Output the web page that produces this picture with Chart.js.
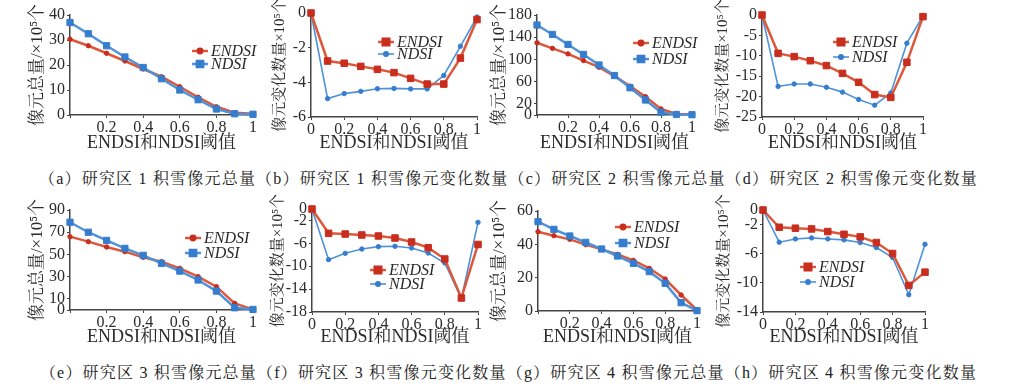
<!DOCTYPE html>
<html>
<head>
<meta charset="utf-8">
<script src="https://cdn.jsdelivr.net/npm/chart.js@4.4.0/dist/chart.umd.min.js"></script>
<style>
body { margin: 0; background: #fff; width: 1017px; height: 390px; position: relative; overflow: hidden; }
canvas { position: absolute; }
.legenda-fig { position: absolute; left: 0; width: 1017px; text-align: center; font-family: 'Liberation Serif', 'Noto Serif CJK SC', serif; font-size: 16px; letter-spacing: 1.2px; color: #222; line-height: 20px; white-space: nowrap; }
</style>
</head>
<body>
<canvas id="g-a"></canvas>
<canvas id="g-b"></canvas>
<canvas id="g-c"></canvas>
<canvas id="g-d"></canvas>
<canvas id="g-e"></canvas>
<canvas id="g-f"></canvas>
<canvas id="g-g"></canvas>
<canvas id="g-h"></canvas>
<div class="legenda-fig" style="top:169px">（a）研究区 1 积雪像元总量（b）研究区 1 积雪像元变化数量（c）研究区 2 积雪像元总量（d）研究区 2 积雪像元变化数量</div>
<div class="legenda-fig" style="top:363px">（e）研究区 3 积雪像元总量（f）研究区 3 积雪像元变化数量（g）研究区 4 积雪像元总量（h）研究区 4 积雪像元变化数量</div>
<script>
// limiares (eixo x)
const limiares = [0, 0.1, 0.2, 0.3, 0.4, 0.5, 0.6, 0.7, 0.8, 0.9, 1];
const xTicks = [0, 0.2, 0.4, 0.6, 0.8, 1];
const xTickLabels = ['0', '0.2', '0.4', '0.6', '0.8', '1'];

// area 1
const endsiTotal1 = [30.3, 27.7, 24.7, 21.6, 18.4, 15.3, 11.3, 7.1, 3.3, 0.9, 0.5];
const ndsiTotal1 = [37.0, 32.5, 27.7, 23.2, 19.0, 14.5, 10.0, 6.1, 2.4, 0.5, 0.3];
const endsiVar1 = [0, -2.77, -2.9, -3.08, -3.25, -3.44, -3.77, -4.1, -4.1, -2.6, -0.38];
const ndsiVar1 = [0, -4.94, -4.65, -4.52, -4.37, -4.35, -4.38, -4.38, -3.6, -1.92, -0.23];
// area 2
const endsiTotal2 = [130, 120, 110, 98, 86, 70, 52, 33, 11, 2, 1];
const ndsiTotal2 = [162, 145, 127, 109, 90, 71, 49, 27, 5, 1, 0.5];
const endsiVar2 = [0, -9.4, -10.2, -11.2, -12.4, -14.3, -16.5, -19.5, -20.2, -11.6, -0.4];
const ndsiVar2 = [0, -17.5, -16.9, -16.9, -17.7, -18.9, -20.7, -22.1, -19.1, -6.9, -0.2];
// area 3
const endsiTotal3 = [66, 61.5, 56.7, 52.5, 47.4, 43.5, 37.5, 30, 21, 6, 0.6];
const ndsiTotal3 = [79, 70, 62.7, 55.5, 49.2, 42, 35, 27, 17, 2, 0.5];
const endsiVar3 = [0, -4.25, -4.37, -4.54, -4.72, -5.07, -5.77, -6.76, -8.74, -15.55, -6.2];
const ndsiVar3 = [0, -8.85, -7.75, -7.0, -6.58, -6.52, -6.81, -7.69, -9.43, -15.67, -2.33];
// area 4
const endsiTotal4 = [47.6, 45.2, 43, 39.8, 37, 34, 30.4, 25.6, 19.2, 9.6, 0.6];
const ndsiTotal4 = [53.6, 49, 45, 41.2, 37.2, 33, 28.6, 23.6, 16.6, 5, 0.2];
const endsiVar4 = [0, -2.37, -2.5, -2.6, -2.96, -3.33, -3.69, -4.47, -5.97, -10.35, -8.53];
const ndsiVar4 = [0, -4.42, -3.97, -3.83, -3.97, -4.1, -4.47, -5.15, -6.52, -11.63, -4.7];

// ticks do eixo y
const yTicksA = [0, 10, 20, 30, 40];
const yTicksB = [-6, -4, -2, 0];
const yTicksC = [0, 20, 60, 100, 140, 180];
const yTicksD = [-25, -20, -15, -10, -5, 0];
const yTicksE = [0, 10, 30, 50, 70, 90];
const yTicksF = [-18, -14, -10, -6, -2, 0];
const yTicksG = [0, 20, 40, 60];
const yTicksH = [-14, -10, -6, -2, 0];

const tituloTotal = '像元总量/×10⁵个';
const tituloVar = '像元变化数量×10⁵个';
const tituloX = 'ENDSI和NDSI阈值';

const fonte = "'Liberation Serif', 'Noto Serif CJK SC', serif";
const corVermelha = 'rgb(221, 88, 58)';
const corVermelhaPonto = 'rgb(200, 45, 30)';
const corAzul = 'rgb(78, 146, 218)';
const corAzulPonto = 'rgb(55, 125, 205)';
const corEixo = '#444';
const corTexto = '#2b2b2b';

const paineis = [
	{ id: 'g-a', tipo: 'total', endsi: endsiTotal1, ndsi: ndsiTotal1, yTicks: yTicksA, linha: 0, area: { l: 70, r: 253, t: 15, b: 115 }, tituloYx: 38, leg: { x: 122, y: 36, gap: 13 } },
	{ id: 'g-b', tipo: 'var', endsi: endsiVar1, ndsi: ndsiVar1, yTicks: yTicksB, linha: 0, area: { l: 311, r: 477, t: 13, b: 117 }, tituloYx: 280, leg: { x: 67, y: 29, gap: 12 } },
	{ id: 'g-c', tipo: 'total', endsi: endsiTotal2, ndsi: ndsiTotal2, yTicks: yTicksC, linha: 0, area: { l: 537, r: 692, t: 15, b: 115 }, tituloYx: 500, leg: { x: 96, y: 28, gap: 16 } },
	{ id: 'g-d', tipo: 'var', endsi: endsiVar2, ndsi: ndsiVar2, yTicks: yTicksD, linha: 0, area: { l: 762, r: 923, t: 15, b: 117 }, tituloYx: 723, leg: { x: 71, y: 27, gap: 15 } },
	{ id: 'g-e', tipo: 'total', endsi: endsiTotal3, ndsi: ndsiTotal3, yTicks: yTicksE, linha: 1, area: { l: 70, r: 253, t: 210, b: 310 }, tituloYx: 38, leg: { x: 115, y: 28, gap: 15 } },
	{ id: 'g-f', tipo: 'var', endsi: endsiVar3, ndsi: ndsiVar3, yTicks: yTicksF, linha: 1, area: { l: 312, r: 478, t: 209, b: 312 }, tituloYx: 278, leg: { x: 58, y: 61, gap: 14 } },
	{ id: 'g-g', tipo: 'total', endsi: endsiTotal4, ndsi: ndsiTotal4, yTicks: yTicksG, linha: 1, area: { l: 538, r: 697, t: 211, b: 311 }, tituloYx: 500, leg: { x: 77, y: 16, gap: 16 } },
	{ id: 'g-h', tipo: 'var', endsi: endsiVar4, ndsi: ndsiVar4, yTicks: yTicksH, linha: 1, area: { l: 763, r: 925, t: 210, b: 312 }, tituloYx: 724, leg: { x: 37, y: 57, gap: 15 } }
];

// legenda desenhada dentro da area do grafico
const legendaInterna = {
	id: 'legendaInterna',
	afterDatasetsDraw(chart, args, opts) {
		const { ctx, chartArea } = chart;
		chart.data.datasets.forEach((ds, i) => {
			const x0 = chartArea.left + opts.x;
			const y = chartArea.top + opts.y + i * opts.gap;
			ctx.save();
			ctx.strokeStyle = ds.borderColor;
			ctx.lineWidth = ds.borderWidth;
			ctx.beginPath();
			ctx.moveTo(x0, y);
			ctx.lineTo(x0 + 16, y);
			ctx.stroke();
			ctx.fillStyle = ds.pointBackgroundColor;
			ctx.strokeStyle = ds.pointBorderColor;
			Chart.helpers.drawPoint(ctx, { pointStyle: ds.pointStyle, radius: ds.pointRadius, borderWidth: 1, rotation: 0 }, x0 + 8, y);
			ctx.font = "italic 16px " + fonte;
			ctx.fillStyle = corTexto;
			ctx.textBaseline = 'middle';
			ctx.textAlign = 'left';
			ctx.fillText(ds.label, x0 + 19, y + 1);
			ctx.restore();
		});
	}
};

const graficos = [];

function criarGrafico(p) {
	const total = p.tipo === 'total';
	const topoLinha = p.linha * 195;
	const esquerda = p.area.l - 50;
	const largura = p.area.r + 14 - esquerda;
	const altura = 155;
	const alturaX = topoLinha + altura - p.area.b;
	const tamTituloY = total ? 17 : 15;
	const padTituloY = p.tituloYx - esquerda - tamTituloY * 1.2 / 2;
	const tituloXy = p.linha === 0 ? 143 : 337;
	const padTituloX = (topoLinha + altura - tituloXy) - 18 * 1.2 / 2;

	const canvas = document.getElementById(p.id);
	canvas.width = largura;
	canvas.height = altura;
	canvas.style.left = esquerda + 'px';
	canvas.style.top = topoLinha + 'px';

	const grafico = new Chart(canvas.getContext('2d'), {
		type: 'line',
		data: {
			datasets: [
				{
					label: 'ENDSI',
					data: limiares.map((x, i) => ({ x: x, y: p.endsi[i] })),
					borderColor: corVermelha,
					borderWidth: 2.5,
					pointStyle: total ? 'circle' : 'rect',
					pointRadius: total ? 2.2 : 4.6,
					pointBackgroundColor: corVermelhaPonto,
					pointBorderColor: corVermelhaPonto,
					pointBorderWidth: 1,
					order: total ? 1 : 0,
					clip: false,
					tension: 0
				},
				{
					label: 'NDSI',
					data: limiares.map((x, i) => ({ x: x, y: p.ndsi[i] })),
					borderColor: corAzul,
					borderWidth: total ? 2.5 : 1.6,
					pointStyle: total ? 'rect' : 'circle',
					pointRadius: total ? 4.4 : 2.2,
					pointBackgroundColor: corAzulPonto,
					pointBorderColor: corAzulPonto,
					pointBorderWidth: 1,
					order: total ? 0 : 1,
					clip: false,
					tension: 0
				}
			]
		},
		options: {
			responsive: false,
			animation: false,
			events: [],
			layout: { padding: { left: 0, right: 14, top: p.area.t - topoLinha, bottom: 0 } },
			scales: {
				x: {
					type: 'linear',
					min: 0,
					max: 1,
					afterBuildTicks: ax => { ax.ticks = xTicks.map(v => ({ value: v })); },
					afterFit: s => { s.height = alturaX; },
					ticks: {
						autoSkip: false,
						maxRotation: 0,
						padding: 0,
						color: corTexto,
						font: { family: fonte, size: 16 },
						callback: (v, i) => (total && i === 0) ? '' : xTickLabels[i]
					},
					grid: { display: true, drawOnChartArea: false, drawTicks: true, tickLength: 3, color: corEixo },
					border: { display: true, color: corEixo, width: 1.5 },
					title: { display: true, text: tituloX, color: corTexto, font: { family: fonte, size: 18 }, padding: { top: 0, bottom: padTituloX } }
				},
				y: {
					min: p.yTicks[0],
					max: p.yTicks[p.yTicks.length - 1],
					afterBuildTicks: ax => { ax.ticks = p.yTicks.map(v => ({ value: v })); },
					afterFit: s => { s.width = 50; },
					ticks: {
						autoSkip: false,
						padding: 2,
						color: corTexto,
						font: { family: fonte, size: 16 },
						callback: v => String(v)
					},
					grid: { display: true, drawOnChartArea: false, drawTicks: true, tickLength: 3, color: corEixo },
					border: { display: true, color: corEixo, width: 1.5 },
					title: { display: true, text: total ? tituloTotal : tituloVar, color: corTexto, font: { family: fonte, size: tamTituloY }, padding: { top: padTituloY, bottom: 0 } }
				}
			},
			plugins: {
				legend: { display: false },
				tooltip: { enabled: false },
				legendaInterna: p.leg
			}
		},
		plugins: [legendaInterna]
	});
	graficos.push(grafico);
}

paineis.forEach(criarGrafico);

// redesenha quando as fontes locais terminarem de carregar
Promise.all([
	document.fonts.load("16px 'Liberation Serif'"),
	document.fonts.load("italic 16px 'Liberation Serif'"),
	document.fonts.load("18px 'Noto Serif CJK SC'", '像元总量变化数个和阈值')
]).then(() => graficos.forEach(g => g.update()));
</script>
</body>
</html>
